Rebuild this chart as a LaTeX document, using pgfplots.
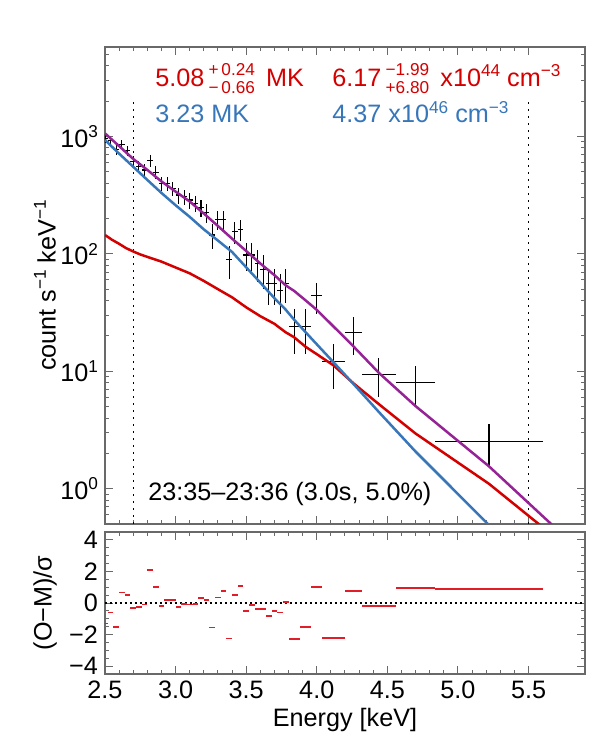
\documentclass[border=0pt]{standalone}
\usepackage{fontspec}
\setmainfont{Liberation Sans}
\setsansfont{Liberation Sans}
\usepackage{pgfplots}
\usepackage{pgfplotstable}
\pgfplotsset{compat=1.18}

\definecolor{hotred}{RGB}{212,0,0}
\definecolor{coolblue}{RGB}{55,118,185}
\definecolor{sumpurple}{RGB}{150,35,150}
\definecolor{resred}{RGB}{225,30,40}
\definecolor{framegray}{RGB}{105,105,105}

\newcommand\fs{\fontsize{12.6}{15}\selectfont}
\newcommand\sfs{\fontsize{8.6}{10}\selectfont}
\newcommand\sups[1]{\raisebox{4.8pt}{\sfs #1}}
\newcommand\supsub[2]{\makebox[0pt][l]{\raisebox{5.3pt}{\sfs #1}}\raisebox{-3.7pt}{\sfs #2}}

% observed count spectrum: bin centre, rate, half bin width, 1-sigma error
\pgfplotstableread{
x    y     ex    ey
2.50 966   0.02  80
2.54 921   0.02  80
2.58 778   0.02  75
2.62 863   0.02  80
2.66 757   0.02  75
2.70 610   0.02  70
2.74 554   0.02  68
2.78 519   0.02  66
2.82 622   0.02  72
2.86 496   0.02  62
2.90 398   0.02  55
2.94 398   0.02  55
2.98 362   0.02  52
3.02 318   0.02  50
3.06 307   0.02  46
3.10 288   0.02  45
3.14 270   0.02  44
3.18 249   0.02  42
3.22 224   0.02  40
3.26 145   0.02  34
3.30 195   0.02  36
3.34 195   0.02  36
3.38 89    0.02  28
3.42 155   0.02  33
3.46 162   0.02  33
3.50 98    0.02  27
3.54 98    0.02  27
3.58 83    0.02  25
3.62 74    0.02  24
3.66 56    0.02  19
3.70 56    0.02  19
3.74 49    0.02  18
3.78 56    0.02  18
3.84 24    0.04  10
3.92 24    0.04  10
4.00 44    0.04  13
4.12 12.1  0.08  5
4.26 21.4  0.06  7.5
4.44 9.46  0.12  3.4
4.70 8.03  0.14  3
5.22 2.53  0.38  1
}\obs

% total model (two components)
\pgfplotstableread{
x    y
2.50 1065
2.60 830
2.70 645
2.80 520
2.90 415
3.00 340
3.10 280
3.20 221
3.30 173
3.40 135
3.50 106
3.60 83
3.70 66
3.78 54
3.84 48.4
3.92 40.3
4.00 33.4
4.12 24.0
4.26 16.3
4.44 9.7
4.70 5.05
5.22 1.55
5.90 0.27
}\total

% cool component, 3.23 MK
\pgfplotstableread{
x    y
2.50 935
2.60 716
2.70 553
2.80 427
2.90 331
3.00 260
3.10 207
3.20 162
3.30 130
3.40 104
3.50 77
3.60 57
3.70 42
3.78 33.5
3.84 27.5
3.92 21.6
4.00 17
4.12 11.9
4.26 7.8
4.44 4.5
4.70 2.07
5.22 0.49
5.40 0.30
}\cool

% hot component, 5.08 MK
\pgfplotstableread{
x    y
2.50 145
2.55 132
2.60 122
2.65 112
2.70 105
2.75 99
2.80 94.4
2.90 86
3.00 76.7
3.10 68.4
3.20 58.9
3.30 50.1
3.40 42.7
3.50 35.1
3.60 29.5
3.70 25.4
3.78 21.5
3.84 19.5
3.92 16.2
4.00 14
4.12 11.2
4.26 7.9
4.44 5.25
4.70 2.95
5.22 1.1
5.90 0.24
}\hot

% normalised residuals (O-M)/sigma
\pgfplotstableread{
x    ex    r
2.50 0.02 -1.3
2.54 0.02 -0.6
2.58 0.02 -1.5
2.62 0.02 0.66
2.66 0.02 0.5
2.70 0.02 -0.3
2.74 0.02 -0.23
2.78 0.02 -0.1
2.82 0.02 2.1
2.86 0.02 1.0
2.90 0.02 -0.2
2.94 0.02 0.17
2.98 0.02 0.2
3.02 0.02 -0.26
3.06 0.02 -0.06
3.10 0.02 -0.1
3.14 0.02 -0.05
3.18 0.02 0.3
3.22 0.02 0.2
3.26 0.02 -1.55
3.30 0.02 0.35
3.34 0.02 0.75
3.38 0.02 -2.25
3.42 0.02 0.5
3.46 0.02 1.1
3.50 0.02 -0.5
3.54 0.02 -0.13
3.58 0.02 -0.38
3.62 0.02 -0.38
3.66 0.02 -0.8
3.70 0.02 -0.5
3.74 0.02 -0.6
3.78 0.02 0.08
3.84 0.04 -2.3
3.92 0.04 -1.5
4.00 0.04 1.0
4.12 0.08 -2.2
4.26 0.06 0.75
4.44 0.12 -0.17
4.70 0.14 0.97
5.22 0.38 0.89
}\resid

\pgfplotsset{
  panel/.style={
    scale only axis, width=240pt,
    xmin=2.5, xmax=5.9,
    xtick={2.5,3.0,3.5,4.0,4.5,5.0,5.5}, minor x tick num=4,
    tick align=inside,
    major tick length=4pt, minor tick length=2pt,
    axis line style={draw=framegray, line width=0.6pt},
    tick style={framegray, line width=0.5pt},
    tick label style={font=\fs, text=black},
    label style={font=\fs},
    clip mode=individual,
  },
}

\begin{document}
\begin{tikzpicture}
\useasboundingbox (-52.5pt,-113pt) rectangle (247.5pt,262pt);

\begin{axis}[panel,
  at={(0pt,0pt)}, anchor=south west, height=238.5pt,
  ymode=log, ymin=0.5, ymax=5800,
  xticklabels={},
  ytick={1,10,100,1000},
  yticklabels={10\sups{0},10\sups{1},10\sups{2},10\sups{3}},
  minor ytick={0.6,0.7,0.8,0.9,2,3,4,5,6,7,8,9,20,30,40,50,60,70,80,90,200,300,400,500,600,700,800,900,2000,3000,4000,5000},
  ylabel={count s\sups{−1} keV\sups{−1}},
  ylabel style={at={(axis description cs:-0.125,0.5)}, anchor=center},
]
  \addplot[black, line width=0.7pt, dash pattern=on 1pt off 2.5pt] coordinates {(2.7,0.5) (2.7,2050)};
  \addplot[black, line width=0.7pt, dash pattern=on 1pt off 2.5pt] coordinates {(5.5,0.5) (5.5,2050)};
  \addplot[draw=none, mark=none,
    error bars/.cd, x dir=both, x explicit, y dir=both, y explicit,
    error mark=none, error bar style={draw=black, line width=0.55pt}]
    table[x=x, y=y, x error=ex, y error=ey] {\obs};
  \addplot[hotred, line width=1.25pt] table[x=x, y=y] {\hot};
  \addplot[coolblue, line width=1.25pt] table[x=x, y=y] {\cool};
  \addplot[sumpurple, line width=1.25pt] table[x=x, y=y] {\total};

  \node[anchor=base west, text=hotred, font=\fs, inner sep=0pt] at (axis description cs:0.104,0.917)
    {5.08\,\supsub{+\,0.24}{−\,0.66}\, MK};
  \node[anchor=base west, text=hotred, font=\fs, inner sep=0pt] at (axis description cs:0.473,0.917)
    {6.17\,\supsub{−1.99}{+6.80}\, x10\sups{44} cm\sups{−3}};
  \node[anchor=base west, text=coolblue, font=\fs, inner sep=0pt] at (axis description cs:0.104,0.841)
    {3.23 MK};
  \node[anchor=base west, text=coolblue, font=\fs, inner sep=0pt] at (axis description cs:0.473,0.841)
    {4.37 x10\sups{46} cm\sups{−3}};
  \node[anchor=base west, text=black, font=\fs, inner sep=0pt] at (axis description cs:0.0896,0.050)
    {23:35–23:36 (3.0s, 5.0\%)};
\end{axis}

\begin{axis}[panel,
  at={(0pt,-4pt)}, anchor=north west, height=71pt,
  ymin=-4.5, ymax=4.5,
  xticklabels={2.5,3.0,3.5,4.0,4.5,5.0,5.5},
  ytick={-4,-2,0,2,4}, yticklabels={−4,−2,0,2,4}, minor y tick num=3,
  xlabel={Energy [keV]},
  xlabel style={at={(axis description cs:0.5,-0.324)}, anchor=center},
  ylabel={(O−M)/σ},
  ylabel style={at={(axis description cs:-0.125,0.5)}, anchor=center},
]
  \addplot[black, line width=0.7pt, dash pattern=on 0.8pt off 1.7pt] coordinates {(2.5,0) (5.9,0)};
  \addplot[draw=none, mark=none,
    error bars/.cd, x dir=both, x explicit,
    error mark=none, error bar style={draw=resred, line width=0.9pt}]
    table[x=x, y=r, x error=ex] {\resid};
\end{axis}
\end{tikzpicture}
\end{document}
